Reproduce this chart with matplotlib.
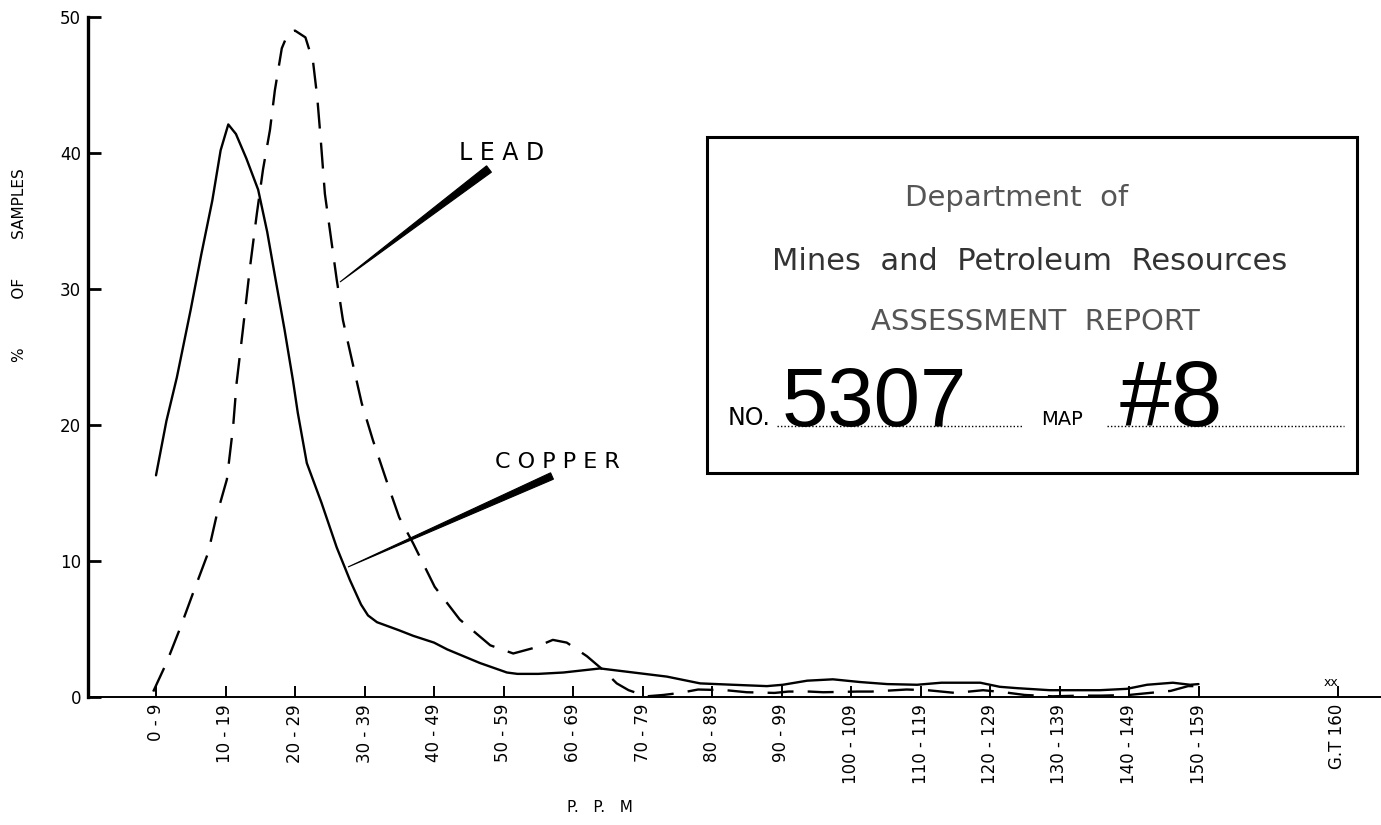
import matplotlib
matplotlib.use("Agg")
import math
import matplotlib.pyplot as plt
from matplotlib import font_manager
from matplotlib.patches import Polygon, Rectangle
from matplotlib.lines import Line2D

# ---------------- data ----------------
categories = ["0 - 9", "10 - 19", "20 - 29", "30 - 39", "40 - 49", "50 - 59",
              "60 - 69", "70 - 79", "80 - 89", "90 - 99", "100 - 109",
              "110 - 119", "120 - 129", "130 - 139", "140 - 149", "150 - 159",
              "G.T 160"]
category_pos = list(range(16)) + [17]

# readings along the hand-drawn curves (x in class units, y in % of samples)
copper_x = [0.00, 0.15, 0.30, 0.50, 0.65, 0.81, 0.93, 1.04, 1.15, 1.30, 1.47,
            1.60, 1.71, 1.85, 1.97, 2.04, 2.17, 2.38, 2.60, 2.79, 2.95, 3.05,
            3.18, 3.50, 3.70, 4.00, 4.19, 4.66, 5.05, 5.20, 5.50, 5.86, 6.39,
            6.87, 7.35, 7.83, 8.30, 8.79, 9.02, 9.37, 9.74, 10.13, 10.52,
            10.95, 11.30, 11.86, 12.14, 12.39, 12.86, 13.58, 13.97, 14.26,
            14.63, 14.88, 15.00]
copper_y = [16.3, 20.3, 23.5, 28.5, 32.5, 36.5, 40.2, 42.1, 41.4, 39.6, 37.3,
            34.2, 31.0, 27.0, 23.3, 20.9, 17.2, 14.3, 11.0, 8.6, 6.8, 6.0,
            5.5, 4.9, 4.5, 4.0, 3.5, 2.5, 1.8, 1.7, 1.7, 1.8, 2.1,
            1.8, 1.5, 1.0, 0.9, 0.8, 0.9, 1.2, 1.3, 1.1, 0.95,
            0.9, 1.05, 1.05, 0.75, 0.65, 0.5, 0.5, 0.6, 0.9,
            1.05, 0.9, 0.95]

lead_x = [-0.04, 0.15, 0.35, 0.53, 0.75, 0.87, 1.02, 1.11, 1.16, 1.25, 1.35,
          1.45, 1.54, 1.64, 1.71, 1.81, 1.90, 2.00, 2.15, 2.26, 2.32, 2.37,
          2.43, 2.60, 2.69, 2.84, 2.96, 3.12, 3.33, 3.50, 3.70, 4.01, 4.37,
          4.81, 5.14, 5.43, 5.71, 5.91, 6.20, 6.43, 6.63, 6.80, 7.06, 7.30,
          7.54, 7.80, 8.20, 8.50, 8.90, 9.10, 9.40, 9.60, 10.10, 10.30, 10.80,
          11.10, 11.50, 11.90, 12.20, 12.50, 12.90, 13.30, 13.60, 14.00,
          14.30, 14.60, 14.85, 15.00]
lead_y = [0.4, 2.5, 5.1, 7.6, 10.6, 13.3, 16.0, 19.9, 23.1, 27.0, 31.5,
          35.5, 38.8, 41.7, 44.6, 47.7, 48.8, 49.0, 48.5, 46.7, 44.1, 41.0,
          37.0, 30.7, 27.7, 24.3, 21.6, 18.9, 15.7, 13.2, 11.3, 8.1, 5.7,
          3.8, 3.2, 3.6, 4.2, 4.0, 3.0, 2.0, 1.0, 0.5, 0.05, 0.15,
          0.3, 0.55, 0.5, 0.35, 0.3, 0.4, 0.4, 0.35, 0.4, 0.4, 0.55,
          0.5, 0.3, 0.5, 0.35, 0.15, 0.05, 0.1, 0.1, 0.15,
          0.3, 0.45, 0.8, 0.8]

yticks = [0, 10, 20, 30, 40, 50]

# ---------------- figure ----------------
W, H = 1381, 825
fig = plt.figure(figsize=(W / 100, H / 100), dpi=100)
fig.patch.set_facecolor("white")

def fx(px):
    return px / W

def fy(py):
    return 1 - py / H

x0_px, xstep_px = 156.0, 69.5
ax = fig.add_axes([fx(88), fy(697), 1 - fx(88), fy(17) - fy(697)])
ax.set_xlim((88 - x0_px) / xstep_px, (W - x0_px) / xstep_px)
ax.set_ylim(0, 50)
ax.set_facecolor("white")

ax.plot(copper_x, copper_y, color="black", lw=1.7, solid_capstyle="round")
ax.plot(lead_x, lead_y, color="black", lw=1.7, linestyle=(0, (11, 6)))

for s in ["top", "right"]:
    ax.spines[s].set_visible(False)
ax.spines["left"].set_linewidth(2.4)
ax.spines["bottom"].set_linewidth(1.4)

ax.set_xticks(category_pos)
ax.set_xticklabels(categories, rotation=90, fontsize=12)
ax.set_yticks(yticks)
ax.set_yticklabels([str(v) for v in yticks], fontsize=12)
ax.tick_params(axis="x", direction="in", length=8, width=1.4, pad=5)
ax.tick_params(axis="y", direction="in", length=9, width=2.0, pad=5)

# axis titles
fig.text(fx(20), fy(265), "%" + " " * 10 + "OF" + " " * 8 + "SAMPLES",
         rotation=90, fontsize=11, ha="center", va="center")
fig.text(fx(600), fy(808), "P.   P.   M", fontsize=11, ha="center", va="center")
fig.text(fx(1331), fy(683), "xx", fontsize=9, ha="center", va="center")

# curve labels with wedge pointers
fig.text(fx(502), fy(153), "L E A D", fontsize=17, ha="center", va="center")
fig.text(fx(557), fy(462), "C O P P E R", fontsize=16, ha="center", va="center")

def wedge(tip, end, thick):
    dx, dy = end[0] - tip[0], end[1] - tip[1]
    n = math.hypot(dx, dy)
    px_, py_ = -dy / n * thick / 2, dx / n * thick / 2
    pts = [tip, (end[0] + px_, end[1] + py_), (end[0] - px_, end[1] - py_)]
    return Polygon([(fx(x), fy(y)) for x, y in pts], closed=True,
                   transform=fig.transFigure, facecolor="black",
                   edgecolor="black", lw=0.8)

fig.patches.append(wedge((340, 282), (489, 169), 8))
fig.patches.append(wedge((348, 567), (552, 476), 7))

# stamp box
fig.patches.append(Rectangle((fx(707), fy(473)), fx(1357) - fx(707),
                             fy(137) - fy(473), transform=fig.transFigure,
                             fill=False, edgecolor="black", lw=2.2))

fig.text(fx(1017), fy(198), "Department  of", fontsize=21, color="#555555",
         ha="center", va="center")
fig.text(fx(1030), fy(262), "Mines  and  Petroleum  Resources", fontsize=22,
         color="#333333", ha="center", va="center")
fig.text(fx(1035), fy(322), "ASSESSMENT  REPORT", fontsize=21,
         color="#555555", ha="center", va="center")

fig.text(fx(728), fy(425), "NO.", fontsize=17, ha="left", va="baseline")
fig.text(fx(1041), fy(425), "MAP", fontsize=14, ha="left", va="baseline")

names = {f.name for f in font_manager.fontManager.ttflist}
if "Liberation Sans Narrow" in names:
    num_family, num_size = "Liberation Sans Narrow", 68
else:
    num_family, num_size = "Liberation Sans", 60
fig.text(fx(874), fy(426), "5307", fontsize=num_size, family=num_family,
         ha="center", va="baseline")
fig.text(fx(1171), fy(426), "#8", fontsize=67, family="Liberation Sans",
         ha="center", va="baseline")

for xa, xb in [(777, 1022), (1107, 1344)]:
    fig.lines.append(Line2D([fx(xa), fx(xb)], [fy(426), fy(426)],
                            transform=fig.transFigure, color="black",
                            lw=1.0, linestyle=(0, (1, 1.5))))

fig.savefig("out.png", dpi=100, facecolor="white")
